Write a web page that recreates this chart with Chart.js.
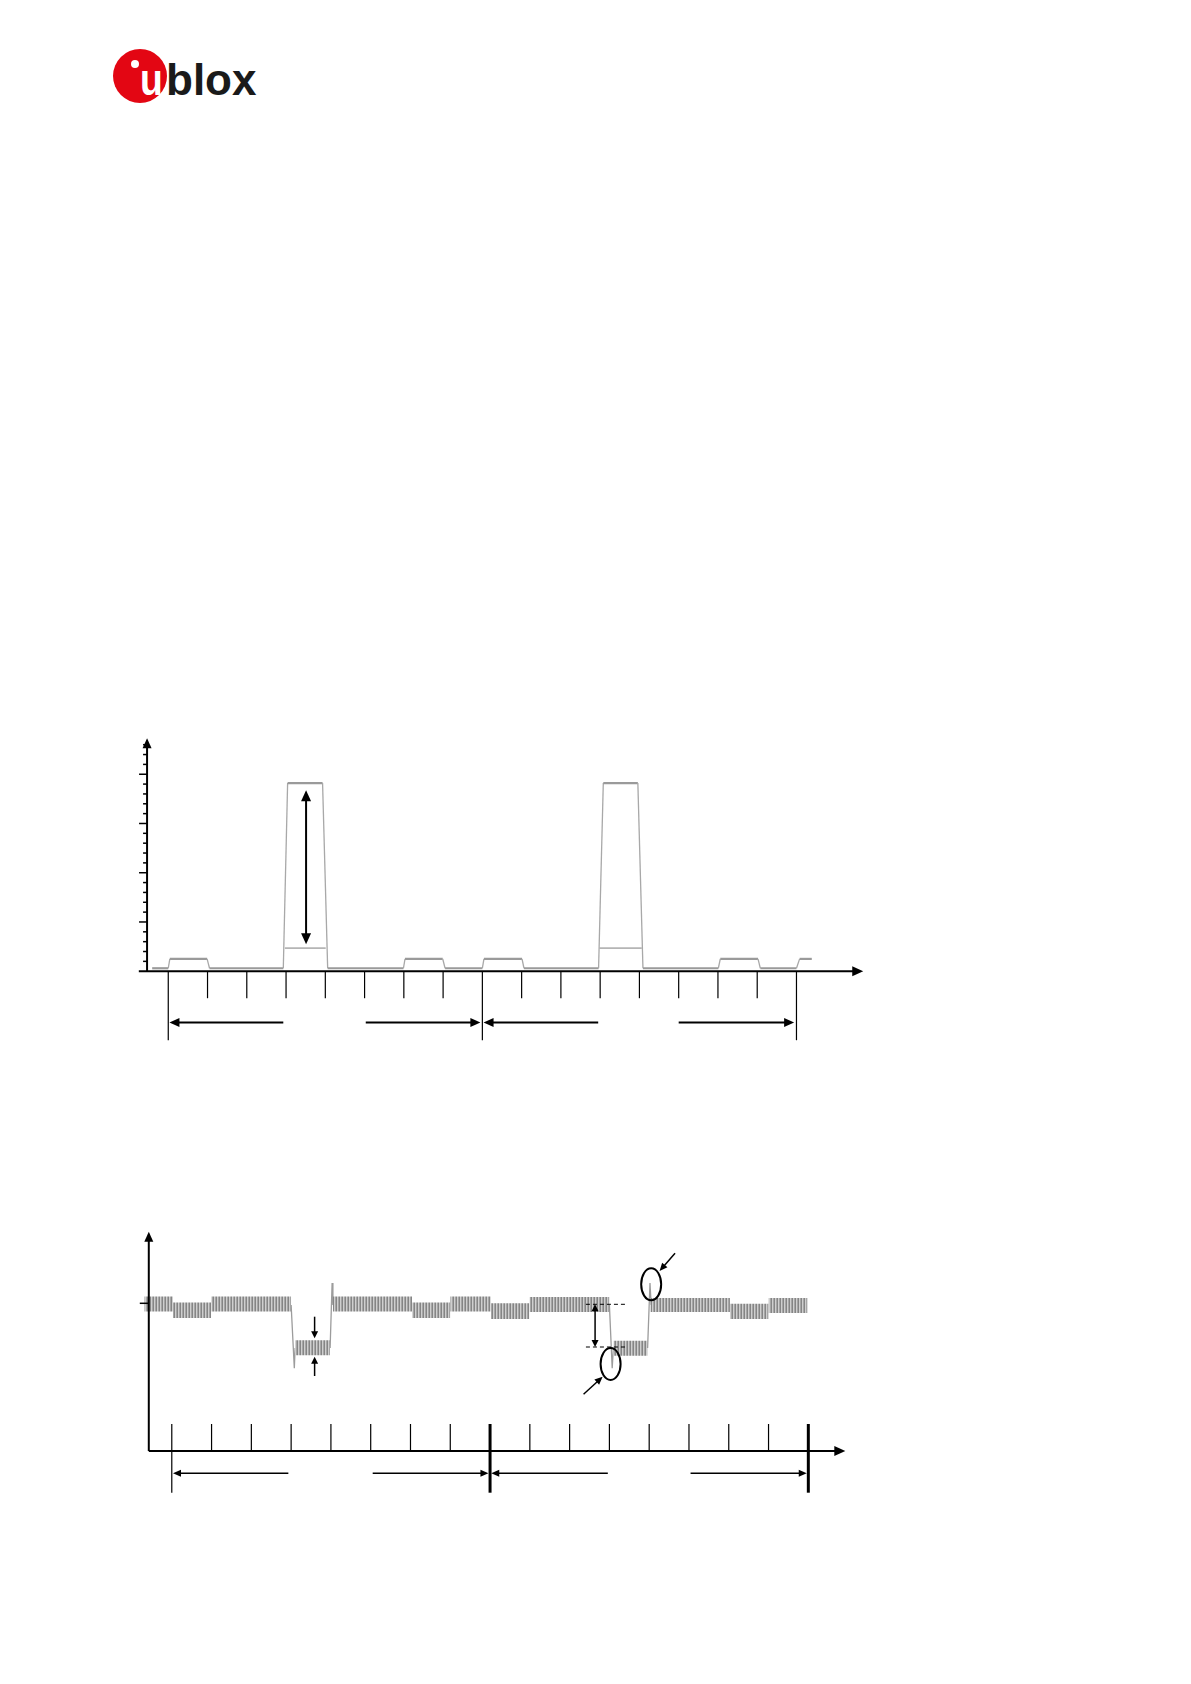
<!DOCTYPE html>
<html>
<head>
<meta charset="utf-8">
<script src="https://cdn.jsdelivr.net/npm/chart.js@4.4.0/dist/chart.umd.min.js"></script>
<style>
  html, body { margin: 0; padding: 0; background: #fff; }
  body { width: 1191px; height: 1684px; position: relative; overflow: hidden; font-family: "Liberation Sans", Arial, sans-serif; }
  .logo-circle { position: absolute; left: 113px; top: 49px; width: 54px; height: 54px; border-radius: 50%; background: #e30613; }
  .logo-dot { position: absolute; left: 131px; top: 60px; width: 8px; height: 8px; border-radius: 50%; background: #fff; }
  .logo-u { position: absolute; left: 140px; top: 58px; font-size: 44px; line-height: 44px; font-weight: bold; color: #fff; transform: scaleX(0.85); transform-origin: left; }
  .logo-text { position: absolute; left: 166px; top: 58px; font-size: 44px; line-height: 44px; font-weight: bold; color: #1a1a1a; }
  .box { position: absolute; }
  #box1 { left: 129px; top: 725px; width: 746px; height: 325px; }
  #box2 { left: 132px; top: 1221px; width: 736px; height: 280px; }
</style>
</head>
<body>
<div class="logo-circle"></div>
<div class="logo-dot"></div>
<div class="logo-u">u</div>
<div class="logo-text">blox</div>

<div class="box" id="box1"><canvas id="chart1"></canvas></div>
<div class="box" id="box2"><canvas id="chart2"></canvas></div>

<script>
// ---------- chart 1: current profile (x in tick units, y in major-tick units) ----------
const c1TraceX = [-0.41, 0.00, 0.04, 0.99, 1.05, 2.93, 3.04, 3.93, 4.06, 5.99, 6.03, 6.99, 7.05,
                  8.00, 8.04, 9.01, 9.06, 10.96, 11.08, 11.96, 12.09, 14.01, 14.06, 15.02, 15.08, 16.00, 16.08, 16.39];
const c1TraceY = [0.06, 0.06, 0.25, 0.25, 0.06, 0.06, 3.82, 3.82, 0.06, 0.06, 0.25, 0.25, 0.06,
                  0.06, 0.25, 0.25, 0.06, 0.06, 3.82, 3.82, 0.06, 0.06, 0.25, 0.25, 0.06, 0.06, 0.25, 0.25];
const c1MidStart = [2.97, 10.98];
const c1MidEnd = [4.01, 12.06];
const c1MidLevel = [0.47, 0.47];

const c1XTicks = [0, 1, 2, 3, 4, 5, 6, 7, 8, 9, 10, 11, 12, 13, 14, 15, 16];
const c1LongTicks = [0, 8, 16];
const c1YMajor = [1, 2, 3, 4];
const c1YMinor = [0.2, 0.4, 0.6, 0.8, 1.2, 1.4, 1.6, 1.8, 2.2, 2.4, 2.6, 2.8, 3.2, 3.4, 3.6, 3.8, 4.2, 4.4, 4.6];
const c1SpanFrom = [0.03, 5.03, 8.03, 13.00];
const c1SpanTo = [2.93, 7.95, 10.95, 15.94];
const c1SpanLevel = -1.04;
const c1PeakArrowX = 3.51;
const c1PeakArrowFrom = 0.55;
const c1PeakArrowTo = 3.675;

// ---------- chart 2: supply voltage (x in tick units, y in 10px units) ----------
const c2BandStart  = [-0.69, 0.03, 0.99, 3.10, 4.05, 6.04, 7.00, 8.02, 8.99, 11.10, 12.03, 14.03, 15.00];
const c2BandEnd    = [0.03, 0.99, 3.00, 3.98, 6.04, 7.00, 8.02, 8.99, 11.00, 11.96, 14.03, 15.00, 15.98];
const c2BandTop    = [15.45, 14.85, 15.45, 11.07, 15.45, 14.85, 15.45, 14.77, 15.40, 11.03, 15.30, 14.73, 15.30];
const c2BandBottom = [13.95, 13.30, 13.95, 9.57, 13.95, 13.30, 13.95, 13.20, 13.90, 9.53, 13.90, 13.20, 13.80];
const c2EdgeX = [[3.00, 3.08, 3.10], [3.98, 4.03, 4.05], [11.00, 11.07, 11.10], [11.96, 12.02, 12.05]];
const c2EdgeY = [[14.6, 8.27, 10.3], [10.3, 16.8, 14.6], [14.6, 8.27, 10.3], [10.3, 16.8, 14.6]];

const c2XTicks = [0, 1, 2, 3, 4, 5, 6, 7, 8, 9, 10, 11, 12, 13, 14, 15, 16];
const c2LongTicks = [0, 8, 16];
const c2NominalTick = 14.77;
const c2SpanFrom = [0.03, 5.05, 8.03, 13.04];
const c2SpanTo = [2.93, 7.96, 10.96, 15.96];
const c2SpanLevel = -2.23;
const c2DropMarkX = 3.59;
const c2DashFrom = 10.41, c2DashTo = 11.42;
const c2DashLevels = [14.67, 10.40];
const c2DropArrowX = 10.64;
const c2Circles = [[11.03, 8.70], [12.05, 16.67]];
const c2Pointers = [[10.35, 5.67, 10.83, 7.43], [12.65, 19.77, 12.26, 18.0]];

// ---------- helpers ----------
function pts(xs, ys) { return xs.map((x, i) => ({ x: x, y: ys[i] })); }

function seg(ctx, x1, y1, x2, y2) {
  ctx.beginPath(); ctx.moveTo(x1, y1); ctx.lineTo(x2, y2); ctx.stroke();
}

function head(ctx, x1, y1, x2, y2, len, wid) {
  const a = Math.atan2(y2 - y1, x2 - x1);
  ctx.beginPath();
  ctx.moveTo(x2, y2);
  ctx.lineTo(x2 - len * Math.cos(a) + wid / 2 * Math.sin(a), y2 - len * Math.sin(a) - wid / 2 * Math.cos(a));
  ctx.lineTo(x2 - len * Math.cos(a) - wid / 2 * Math.sin(a), y2 - len * Math.sin(a) + wid / 2 * Math.cos(a));
  ctx.closePath(); ctx.fill();
}

function arrow(ctx, x1, y1, x2, y2, len, wid) {
  const a = Math.atan2(y2 - y1, x2 - x1);
  seg(ctx, x1, y1, x2 - (len - 1) * Math.cos(a), y2 - (len - 1) * Math.sin(a));
  head(ctx, x1, y1, x2, y2, len, wid);
}

function dblArrow(ctx, x1, y1, x2, y2, len, wid) {
  const a = Math.atan2(y2 - y1, x2 - x1);
  seg(ctx, x1 + (len - 1) * Math.cos(a), y1 + (len - 1) * Math.sin(a), x2 - (len - 1) * Math.cos(a), y2 - (len - 1) * Math.sin(a));
  head(ctx, x1, y1, x2, y2, len, wid);
  head(ctx, x2, y2, x1, y1, len, wid);
}

function baseOptions(xmin, xmax, ymin, ymax) {
  return {
    responsive: true,
    maintainAspectRatio: false,
    animation: false,
    events: [],
    layout: { padding: 0 },
    plugins: { legend: { display: false }, tooltip: { enabled: false } },
    elements: { point: { radius: 0 }, line: { tension: 0 } },
    scales: {
      x: { type: 'linear', min: xmin, max: xmax, display: false },
      y: { type: 'linear', min: ymin, max: ymax, display: false }
    }
  };
}

// ---------- chart 1 ----------
const c1Mid = [];
c1MidStart.forEach((s, i) => {
  c1Mid.push({ x: s, y: c1MidLevel[i] }, { x: c1MidEnd[i], y: c1MidLevel[i] }, { x: c1MidEnd[i] + 0.01, y: null });
});

const axes1 = {
  id: 'axes1',
  afterDatasetsDraw(chart) {
    const ctx = chart.ctx, xs = chart.scales.x, ys = chart.scales.y;
    const X = v => xs.getPixelForValue(v), Y = v => ys.getPixelForValue(v);
    const ax = X(-0.54), y0 = Y(0);
    ctx.save();
    ctx.strokeStyle = '#000'; ctx.fillStyle = '#000';
    ctx.lineWidth = 2;
    arrow(ctx, ax, y0, ax, Y(4.73), 10, 9);
    arrow(ctx, X(-0.75), y0, X(17.70), y0, 11, 10);
    ctx.lineWidth = 1.5;
    c1YMajor.forEach(v => seg(ctx, ax - 8, Y(v), ax, Y(v)));
    c1YMinor.forEach(v => seg(ctx, ax - 4, Y(v), ax, Y(v)));
    ctx.lineWidth = 1.2;
    c1XTicks.forEach(t => {
      const long = c1LongTicks.includes(t);
      seg(ctx, X(t), y0, X(t), y0 + (long ? 69 : 27));
    });
    ctx.lineWidth = 2;
    c1SpanFrom.forEach((s, i) => {
      const yy = Y(c1SpanLevel);
      if (i % 2 === 0) arrow(ctx, X(c1SpanTo[i]), yy, X(s), yy, 10, 9);
      else arrow(ctx, X(s), yy, X(c1SpanTo[i]), yy, 10, 9);
    });
    dblArrow(ctx, X(c1PeakArrowX), Y(c1PeakArrowFrom), X(c1PeakArrowX), Y(c1PeakArrowTo), 11, 10);
    ctx.restore();
  }
};

new Chart(document.getElementById('chart1'), {
  type: 'line',
  data: {
    datasets: [
      {
        data: pts(c1TraceX, c1TraceY),
        borderColor: '#999',
        borderWidth: 2,
        segment: {
          borderWidth: c => Math.abs(c.p0.parsed.y - c.p1.parsed.y) > 0.1 ? 1.3 : 2.2,
          borderColor: c => Math.abs(c.p0.parsed.y - c.p1.parsed.y) > 0.1 ? '#a8a8a8' : '#9a9a9a'
        }
      },
      { data: c1Mid, borderColor: '#b5b5b5', borderWidth: 1.8, spanGaps: false }
    ]
  },
  options: baseOptions(-1.0, 18.0, -1.6, 5.0),
  plugins: [axes1]
});

// ---------- chart 2 ----------
const pc = document.createElement('canvas');
pc.width = 3; pc.height = 2;
const pctx = pc.getContext('2d');
['#858585', '#cfcfcf', '#a6a6a6'].forEach((c, i) => { pctx.fillStyle = c; pctx.fillRect(i, 0, 1, 2); });
const ripple = pctx.createPattern(pc, 'repeat');

const c2Sets = c2BandStart.map((s, i) => ({
  data: [{ x: s, y: c2BandTop[i] }, { x: c2BandEnd[i], y: c2BandTop[i] }],
  borderWidth: 0,
  borderColor: 'rgba(0,0,0,0)',
  backgroundColor: ripple,
  fill: { value: c2BandBottom[i] }
}));
c2EdgeX.forEach((xs, i) => {
  c2Sets.push({ data: pts(xs, c2EdgeY[i]), borderColor: '#9c9c9c', borderWidth: 1.3, fill: false });
});

const axes2 = {
  id: 'axes2',
  afterDatasetsDraw(chart) {
    const ctx = chart.ctx, xs = chart.scales.x, ys = chart.scales.y;
    const X = v => xs.getPixelForValue(v), Y = v => ys.getPixelForValue(v);
    const ax = X(-0.578), y0 = Y(0);
    ctx.save();
    ctx.strokeStyle = '#000'; ctx.fillStyle = '#000';
    ctx.lineWidth = 2;
    arrow(ctx, ax, y0, ax, Y(21.93), 10, 9);
    arrow(ctx, ax, y0, X(16.93), y0, 11, 10);
    ctx.lineWidth = 1.5;
    seg(ctx, ax - 9, Y(c2NominalTick), ax, Y(c2NominalTick));
    c2XTicks.forEach(t => {
      const long = c2LongTicks.includes(t);
      ctx.lineWidth = long && t !== 0 ? 3 : 1.2;
      seg(ctx, X(t), y0 - 27, X(t), y0 + (long ? 41.7 : 0));
    });
    ctx.lineWidth = 1.5;
    c2SpanFrom.forEach((s, i) => {
      const yy = Y(c2SpanLevel);
      if (i % 2 === 0) arrow(ctx, X(c2SpanTo[i]), yy, X(s), yy, 8, 7);
      else arrow(ctx, X(s), yy, X(c2SpanTo[i]), yy, 8, 7);
    });
    // ripple arrows on first dip
    arrow(ctx, X(c2DropMarkX), Y(13.43), X(c2DropMarkX), Y(11.27), 7, 7);
    arrow(ctx, X(c2DropMarkX), Y(7.5), X(c2DropMarkX), Y(9.43), 7, 7);
    // drop marker on second dip
    ctx.lineWidth = 1;
    ctx.setLineDash([4, 3]);
    c2DashLevels.forEach(v => seg(ctx, X(c2DashFrom), Y(v), X(c2DashTo), Y(v)));
    ctx.setLineDash([]);
    ctx.lineWidth = 1.5;
    dblArrow(ctx, X(c2DropArrowX), Y(c2DashLevels[0]), X(c2DropArrowX), Y(c2DashLevels[1]), 7, 7);
    ctx.lineWidth = 2;
    c2Circles.forEach(c => {
      ctx.beginPath(); ctx.ellipse(X(c[0]), Y(c[1]), 10, 16, 0, 0, Math.PI * 2); ctx.stroke();
    });
    ctx.lineWidth = 1.5;
    c2Pointers.forEach(p => arrow(ctx, X(p[0]), Y(p[1]), X(p[2]), Y(p[3]), 8, 7));
    ctx.restore();
  }
};

new Chart(document.getElementById('chart2'), {
  type: 'line',
  data: { datasets: c2Sets },
  options: baseOptions(-1.0, 17.5, -5, 23),
  plugins: [axes2]
});
</script>
</body>
</html>
